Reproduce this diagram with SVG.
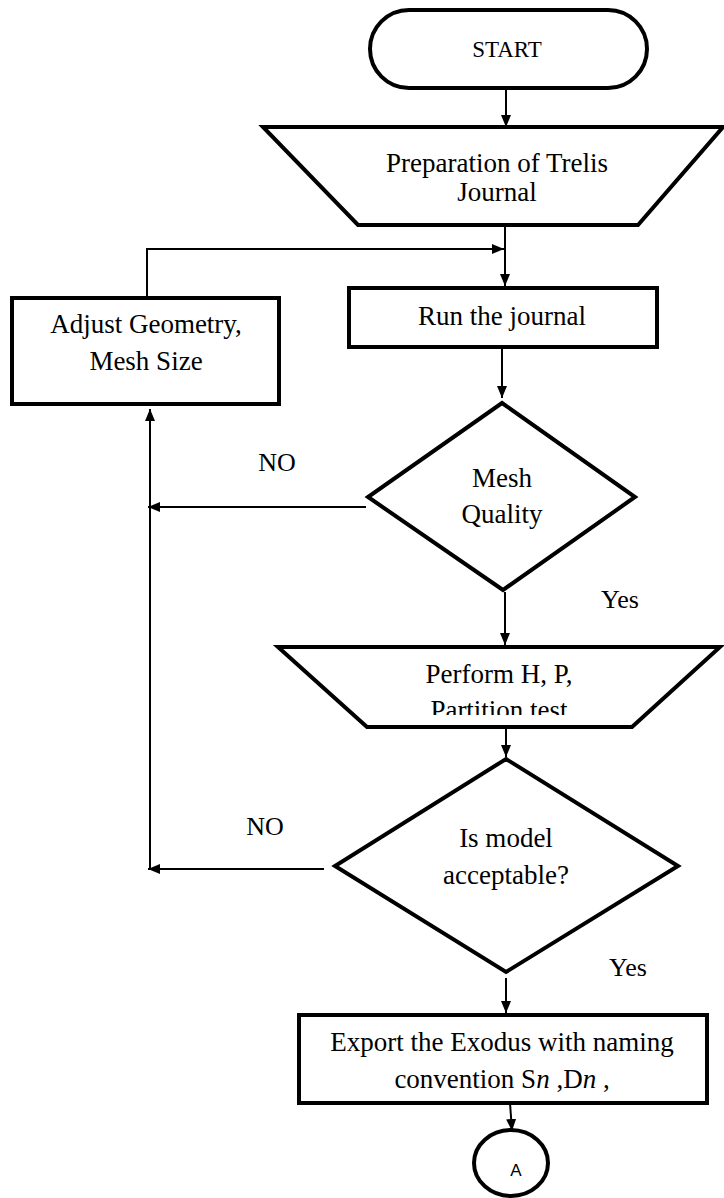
<svg xmlns="http://www.w3.org/2000/svg" width="724" height="1198" viewBox="0 0 724 1198">
<style>
.shape{fill:#fff;stroke:#000;stroke-width:4;stroke-linejoin:miter}
.conn{fill:none;stroke:#000;stroke-width:2}
text{font-family:'Times New Roman','Liberation Serif',Tinos,serif;fill:#000;text-anchor:middle}
.t{font-size:27px}
.lbl{font-size:26px}
</style>
<defs>
<marker id="arr" viewBox="0 0 12 10" refX="12" refY="5" markerWidth="12" markerHeight="10" markerUnits="userSpaceOnUse" orient="auto">
<path d="M0,0 L12,5 L0,10 z" fill="#000"/>
</marker>
<clipPath id="clipPerform"><rect x="270" y="640" width="454" height="75"/></clipPath>
</defs>
<rect width="724" height="1198" fill="#fff"/>
<g id="connectors">
<line class="conn" x1="506" y1="88" x2="506" y2="127" marker-end="url(#arr)"/>
<line class="conn" x1="505" y1="225" x2="505" y2="286" marker-end="url(#arr)"/>
<polyline class="conn" points="147,298 147,249 504,249" marker-end="url(#arr)"/>
<line class="conn" x1="502" y1="348" x2="502" y2="398" marker-end="url(#arr)"/>
<line class="conn" x1="505" y1="592" x2="505" y2="645" marker-end="url(#arr)"/>
<line class="conn" x1="366" y1="507" x2="148" y2="507" marker-end="url(#arr)"/>
<line class="conn" x1="150" y1="870" x2="150" y2="409" marker-end="url(#arr)"/>
<line class="conn" x1="506" y1="727" x2="506" y2="757" marker-end="url(#arr)"/>
<line class="conn" x1="324" y1="869" x2="148" y2="869" marker-end="url(#arr)"/>
<line class="conn" x1="506" y1="978" x2="506" y2="1013" marker-end="url(#arr)"/>
<line class="conn" x1="510" y1="1103" x2="512" y2="1131" marker-end="url(#arr)"/>
<text class="lbl" x="277" y="471">NO</text>
<text class="lbl" x="620" y="608">Yes</text>
<text class="lbl" x="265" y="835">NO</text>
<text class="lbl" x="628" y="976">Yes</text>
</g>
<g id="start">
<rect class="shape" x="370" y="10" width="277" height="78" rx="39" ry="39"/>
<text x="507" y="57" font-size="23">START</text>
</g>
<g id="prep">
<polygon class="shape" points="263,127 723,127 638,225 358,225"/>
<text class="t" x="497" y="172">Preparation of Trelis</text>
<text class="t" x="497" y="201">Journal</text>
</g>
<g id="adjust">
<rect class="shape" x="12" y="298" width="267" height="106"/>
<text class="t" x="146" y="333">Adjust Geometry,</text>
<text class="t" x="146" y="370">Mesh Size</text>
</g>
<g id="run">
<rect class="shape" x="349" y="288" width="308" height="59"/>
<text class="t" x="502" y="325">Run the journal</text>
</g>
<g id="mesh">
<polygon class="shape" points="502,403 635,497 503,590 368,497"/>
<text class="t" x="502" y="487">Mesh</text>
<text class="t" x="502" y="523">Quality</text>
</g>
<g id="perform">
<polygon class="shape" points="278,647 720,647 632,727 367,727"/>
<g clip-path="url(#clipPerform)">
<text class="t" x="499" y="683">Perform H, P,</text>
<text class="t" x="499" y="719">Partition test</text>
</g>
</g>
<g id="acceptable">
<polygon class="shape" points="506,759 678,866 506,972 335,866"/>
<text class="t" x="506" y="847">Is model</text>
<text class="t" x="506" y="884">acceptable?</text>
</g>
<g id="export">
<rect class="shape" x="299" y="1015" width="408" height="88"/>
<text class="t" x="502" y="1051">Export the Exodus with naming</text>
<text class="t" x="502" y="1088">convention S<tspan font-style="italic">n</tspan> ,D<tspan font-style="italic">n</tspan> ,</text>
</g>
<g id="connectorA">
<ellipse class="shape" cx="511" cy="1163" rx="37" ry="33"/>
<text x="516" y="1176" font-size="17" style="font-family:'Liberation Sans',Arial,sans-serif">A</text>
</g>
</svg>
